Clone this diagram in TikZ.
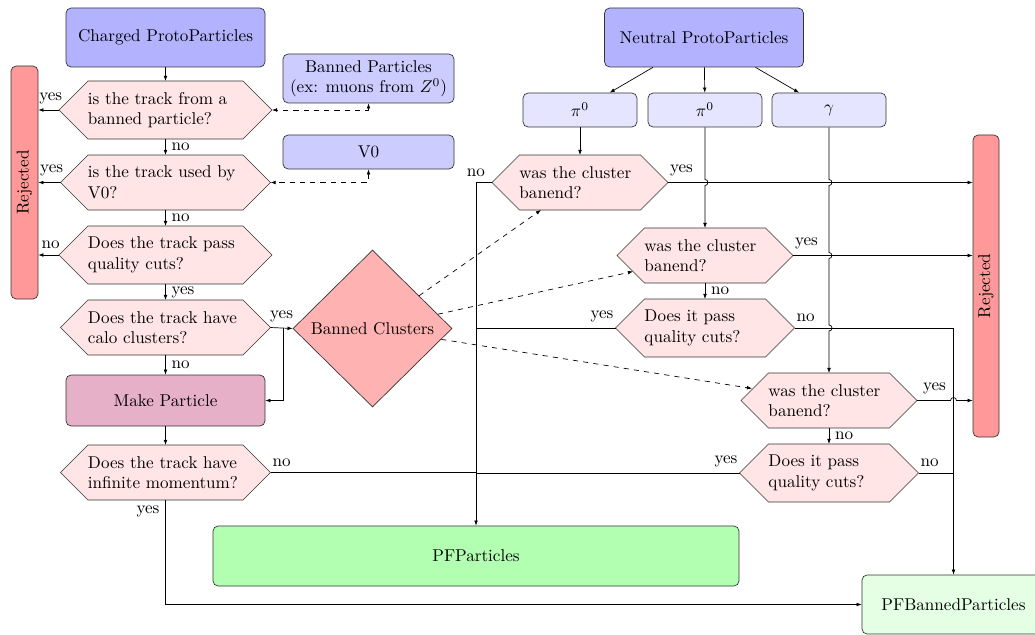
\documentclass[tikz,border=0pt]{standalone}
\usepackage{graphicx}
\usetikzlibrary{arrows.meta,shapes.geometric,calc,backgrounds}
\def\pxu{0.585pt}
\definecolor{mkpart}{RGB}{230,176,200}
\begin{document}
\begin{tikzpicture}[x=0.585pt,y=-0.585pt,
  box/.style={draw=black!80, rounded corners=3pt, align=center, inner sep=0pt},
  hexL/.style={inner sep=0pt, outer sep=0pt, align=left, text width=90.7pt,
    minimum height=#1*\pxu, minimum width=(155+#1)*\pxu},
  hexR/.style={inner sep=0pt, outer sep=0pt, align=left, text width=70.8pt,
    minimum height=#1*\pxu, minimum width=(121+#1)*\pxu},
  hexshape/.style={draw=black!80, fill=red!10},
  arr/.style={-{Latex[length=3pt,width=2.2pt]}},
  darr/.style={dashed, {Latex[length=3pt,width=2.2pt]}-{Latex[length=3pt,width=2.2pt]}},
  darrow/.style={dashed, -{Latex[length=3pt,width=2.2pt]}},
  ar/.style={above right, inner xsep=1pt},
  al/.style={above left, inner xsep=1pt}
]
\useasboundingbox (0,0) rectangle (1035,635);

% boxes
\node[box, fill=blue!30, minimum width=199*\pxu, minimum height=59*\pxu] (CP) at (165.5,37.5) {Charged ProtoParticles};
\node[box, fill=blue!30, minimum width=199*\pxu, minimum height=59*\pxu] (NP) at (704,37.5) {Neutral ProtoParticles};
\node[box, fill=blue!20, minimum width=171*\pxu, minimum height=49*\pxu] (BP) at (368.5,78.5) {Banned Particles\\(ex: muons from $Z^0$)};
\node[box, fill=blue!20, minimum width=171*\pxu, minimum height=34*\pxu] (V0) at (368.5,152) {V0};
\node[box, fill=blue!10, minimum width=114*\pxu, minimum height=34*\pxu] (pi1) at (580,110) {$\pi^0$};
\node[box, fill=blue!10, minimum width=114*\pxu, minimum height=34*\pxu] (pi2) at (705,110) {$\pi^0$};
\node[box, fill=blue!10, minimum width=114*\pxu, minimum height=34*\pxu] (g) at (829,110) {$\gamma$};
\node[box, fill=red!40, minimum width=27*\pxu, minimum height=233*\pxu] (RejL) at (24.5,182.5) {\rotatebox{90}{Rejected}};
\node[box, fill=red!40, minimum width=26*\pxu, minimum height=302*\pxu] (RejR) at (986,286) {\rotatebox{90}{Rejected}};
\node[box, fill=mkpart, minimum width=199*\pxu, minimum height=51*\pxu] (MP) at (165.5,400.5) {Make Particle};
\node[diamond, draw=black!80, fill=red!30, minimum width=159*\pxu, minimum height=157*\pxu, inner sep=0pt] (BC) at (372.5,328.5) {Banned Clusters};
\node[box, fill=green!30, minimum width=526*\pxu, minimum height=60*\pxu] (PFP) at (476,556) {PFParticles};
\node[box, fill=green!10, minimum width=183*\pxu, minimum height=59*\pxu] (PFB) at (953.5,604.5) {PFBannedParticles};

% decision nodes
\node[hexL=58] (H1) at (165.5,110) {is the track from a banned particle?};
\node[hexL=55] (H2) at (165.5,182.5) {is the track used by V0?};
\node[hexL=58] (H3) at (165.5,255) {Does the track pass quality cuts?};
\node[hexL=55] (H4) at (165.5,327.5) {Does the track have calo clusters?};
\node[hexL=55] (H5) at (165.5,472.5) {Does the track have infinite momentum?};
\node[hexR=55] (N1) at (580,182.5) {was the cluster banend?};
\node[hexR=55] (N2) at (705,255.5) {was the cluster banend?};
\node[hexR=58] (Nq1) at (705,328) {Does it pass quality cuts?};
\node[hexR=55] (N3) at (829,400.5) {was the cluster banend?};
\node[hexR=58] (Nq2) at (829,473) {Does it pass quality cuts?};

\begin{scope}[on background layer]
\foreach \n/\h in {H1/29,H2/27.5,H3/29,H4/27.5,H5/27.5,N1/27.5,N2/27.5,Nq1/29,N3/27.5,Nq2/29}{
  \path[hexshape] (\n.west) -- ($(\n.north west)+(\h,0)$) -- ($(\n.north east)+(-\h,0)$)
    -- (\n.east) -- ($(\n.south east)+(-\h,0)$) -- ($(\n.south west)+(\h,0)$) -- cycle;
}
\end{scope}

% charged chain
\draw[arr] (CP) -- (H1);
\draw[arr] (H1) -- node[right] (l1) {no} (H2);
\draw[arr] (H2) -- node[right] (l2) {no} (H3);
\draw[arr] (H3) -- node[right] (l3) {yes} (H4);
\draw[arr] (H4) -- node[right] (l4) {no} (MP);
\draw[arr] (MP) -- (H5);
\draw[arr] (H1.west) -- node[above, pos=0.4] (l5) {yes} (H1.west -| RejL.east);
\draw[arr] (H2.west) -- node[above, pos=0.4] (l6) {yes} (H2.west -| RejL.east);
\draw[arr] (H3.west) -- node[above, pos=0.4] (l7) {no} (H3.west -| RejL.east);
\draw[darr] (BP.south) |- (H1.east);
\draw[darr] (V0.south) |- (H2.east);
\draw[arr] (H4.east) -- node[above] (l8) {yes} (BC.west);
\coordinate (bj) at (283,327.5);
\draw[arr] (bj) |- (MP.east);
\draw (H5.east) node[ar] (l9) {no} -- (H5.east -| PFP.north);
\draw[arr] (H5.south) node[below left] (l10) {yes} |- (PFB.west);

% neutral chain
\draw[arr] (NP) -- (pi1);
\draw[arr] (NP) -- (pi2);
\draw[arr] (NP) -- (g);
\draw[arr] (pi1) -- (N1);
\draw[arr] (N1.west) -- (N1.west -| PFP.north) node[above] (l11) {no} -- (PFP.north);
\draw[arr] (N1.east) node[ar] (l12) {yes} -- (N1.east -| RejR.west);
\draw[arr] (pi2.south) -- ($(pi2.south |- N1.east)+(0,-3)$) arc[start angle=90,end angle=-90,radius=3*\pxu] -- (N2.north);
\draw[arr] (N2.east) node[ar] (l13) {yes} -- (N2.east -| RejR.west);
\draw[arr] (N2) -- node[right] (l14) {no} (Nq1);
\draw (Nq1.west) node[al] (l15) {yes} -- (Nq1.west -| PFP.north);
\draw[arr] (Nq1.east) node[ar] (l16) {no} -- (Nq1.east -| PFB.north) -- (PFB.north);
\draw[arr] (g.south) -- ($(g.south |- N1.east)+(0,-3)$) arc[start angle=90,end angle=-90,radius=3*\pxu]
  -- ($(g.south |- N2.east)+(0,-3)$) arc[start angle=90,end angle=-90,radius=3*\pxu]
  -- ($(g.south |- Nq1.east)+(0,-3)$) arc[start angle=90,end angle=-90,radius=3*\pxu]
  -- (N3.north);
\draw[arr] (N3.east) node[above right] (l17) {yes} -- ($(N3.east -| PFB.north)+(-3,0)$) arc[start angle=180,end angle=0,radius=3*\pxu] -- (N3.east -| RejR.west);
\draw[arr] (N3) -- node[right] (l18) {no} (Nq2);
\draw (Nq2.west) node[al] (l19) {yes} -- (Nq2.west -| PFP.north);
\draw (Nq2.east) node[ar] (l20) {no} -- (Nq2.east -| PFB.north);

% banned clusters
\draw[darrow] (BC) -- ($(N1.south)+(-39,0)$);
\draw[darrow] (BC) -- ($(N2.west)+(16,16)$);
\draw[darrow] (BC) -- ($(N3.west)+(11,-12)$);
\end{tikzpicture}
\end{document}
